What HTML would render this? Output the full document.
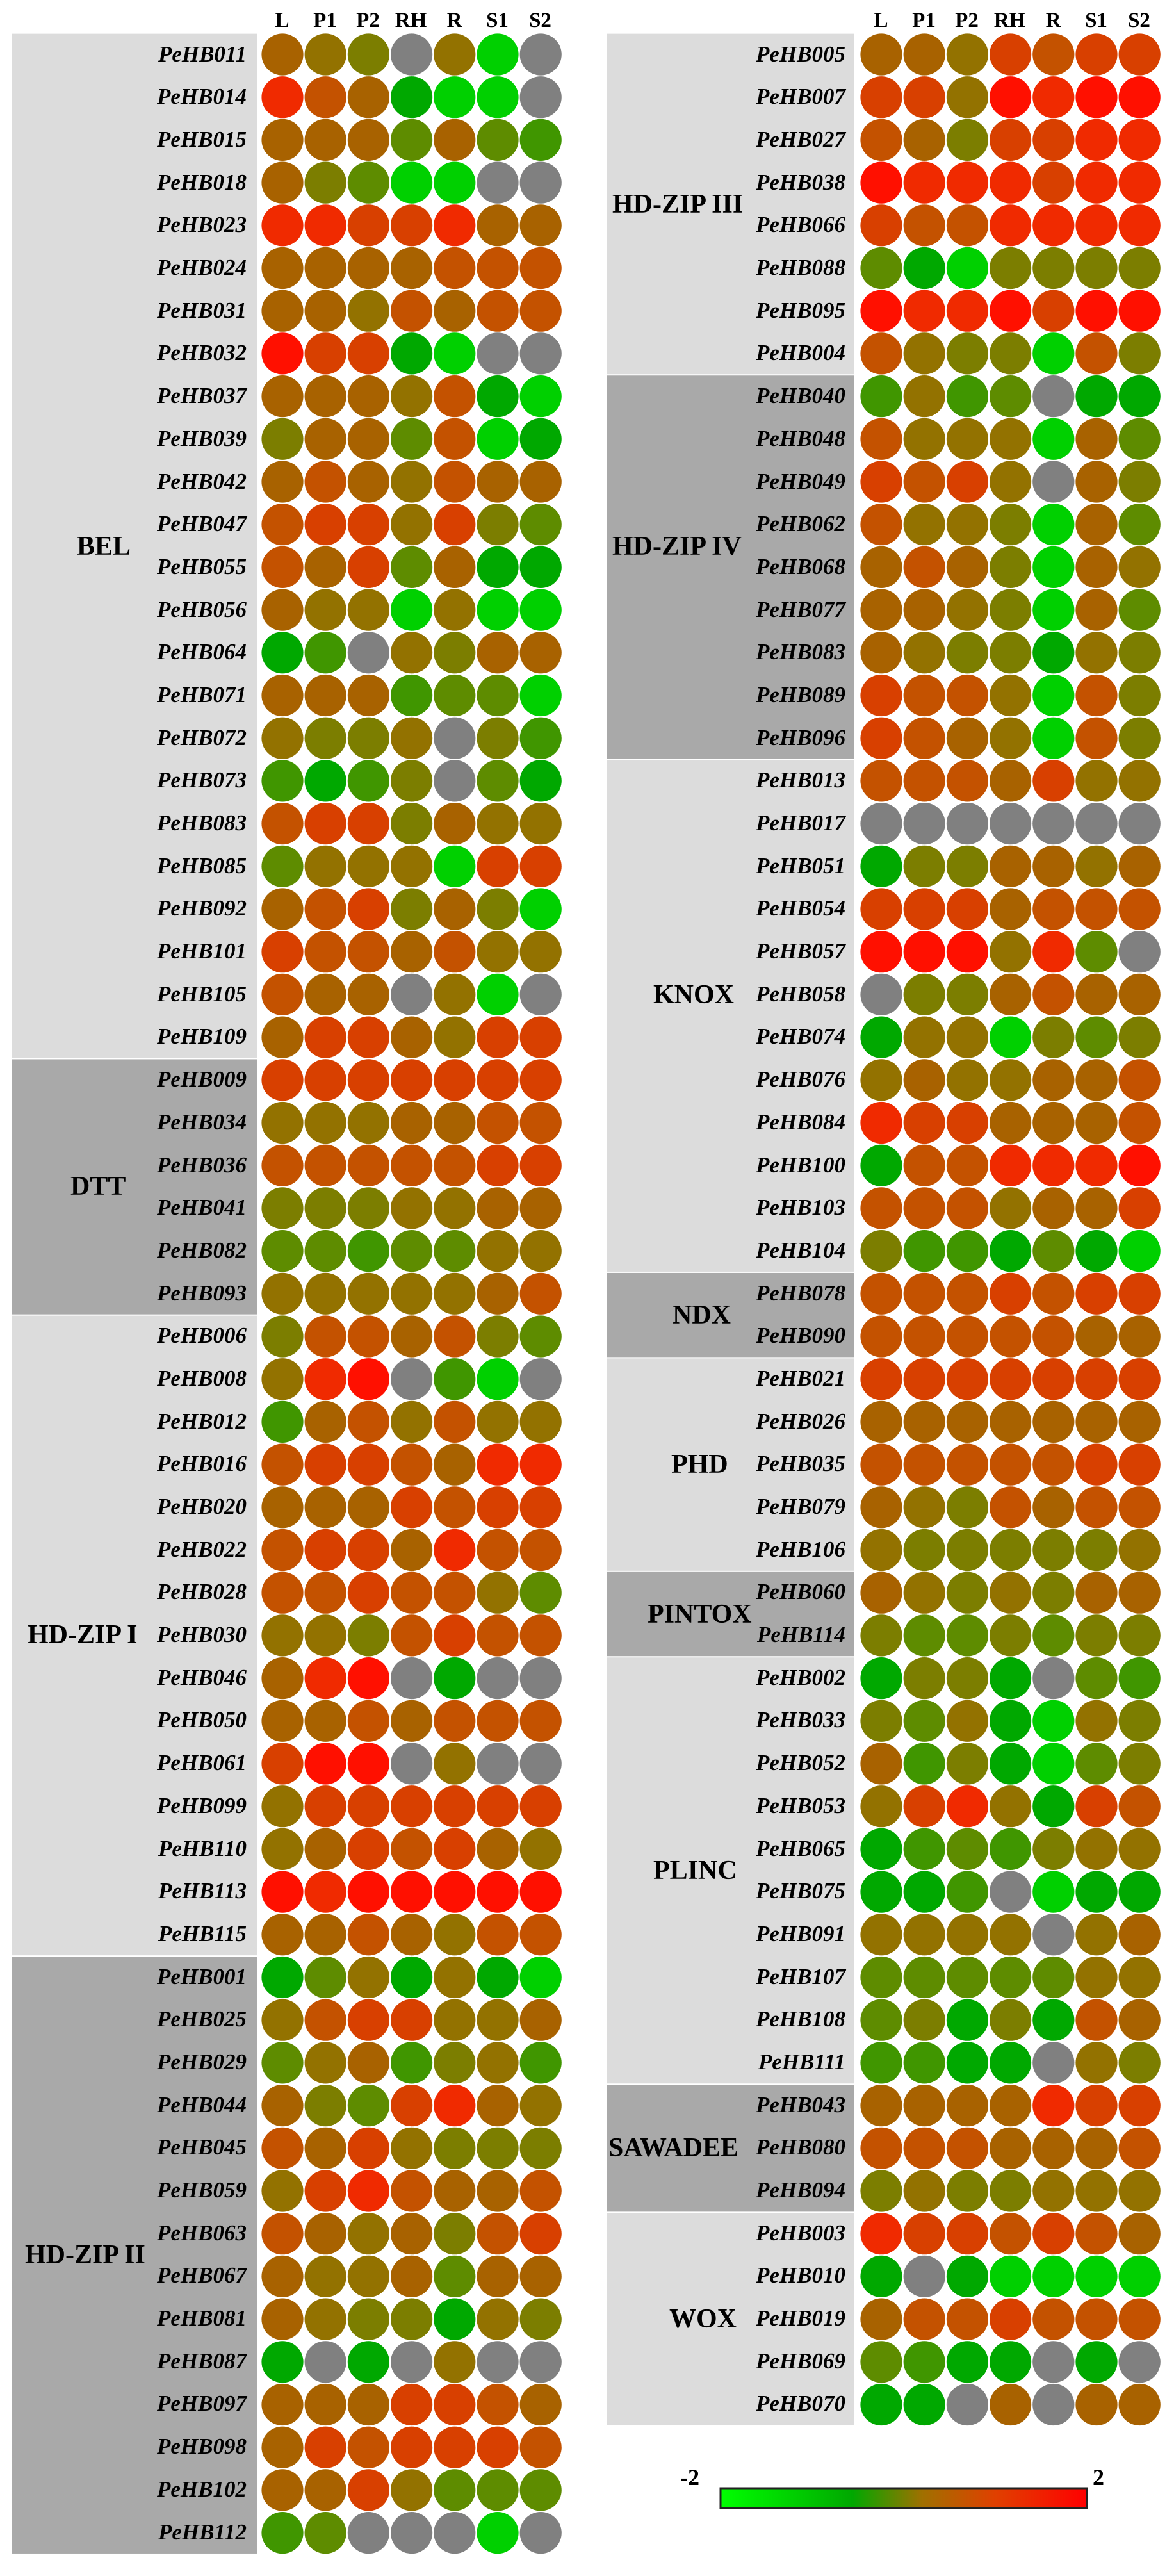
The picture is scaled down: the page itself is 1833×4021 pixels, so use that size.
<!DOCTYPE html>
<html><head><meta charset="utf-8">
<style>
html,body{margin:0;padding:0;background:#fff;}
body{width:1833px;height:4021px;position:relative;overflow:hidden;font-family:"Liberation Serif",serif;}
.col{position:absolute;top:51.65px;font-style:italic;font-weight:bold;font-size:35px;text-align:right;}
.col div{height:66.7px;line-height:66.7px;white-space:nowrap;}
.grp{position:absolute;font-weight:bold;font-size:42px;white-space:nowrap;line-height:42px;}
.hd{position:absolute;top:14px;font-weight:bold;font-size:33px;width:67px;text-align:center;}
svg{position:absolute;left:0;top:0;}
</style></head><body>
<svg id="s" width="1833" height="4021" xmlns="http://www.w3.org/2000/svg">
<defs><linearGradient id="cb" x1="0" x2="1" y1="0" y2="0">
<stop offset="0" stop-color="#00ff00"/><stop offset="0.36" stop-color="#00a800"/>
<stop offset="0.55" stop-color="#a07000"/><stop offset="0.75" stop-color="#e04000"/>
<stop offset="1" stop-color="#ff0000"/></linearGradient></defs>
<rect x="1125" y="3884" width="572" height="31" fill="url(#cb)" stroke="#222" stroke-width="3"/>
</svg>
<div class="hd" style="left:407px">L</div><div class="hd" style="left:474px">P1</div><div class="hd" style="left:541px">P2</div><div class="hd" style="left:608px">RH</div><div class="hd" style="left:676px">R</div><div class="hd" style="left:743px">S1</div><div class="hd" style="left:810px">S2</div>
<div class="hd" style="left:1342px">L</div><div class="hd" style="left:1409px">P1</div><div class="hd" style="left:1476px">P2</div><div class="hd" style="left:1543px">RH</div><div class="hd" style="left:1611px">R</div><div class="hd" style="left:1678px">S1</div><div class="hd" style="left:1745px">S2</div>

<div class="col" style="left:100px;width:285px">
<div>PeHB011</div><div>PeHB014</div><div>PeHB015</div><div>PeHB018</div><div>PeHB023</div><div>PeHB024</div><div>PeHB031</div><div>PeHB032</div><div>PeHB037</div><div>PeHB039</div><div>PeHB042</div><div>PeHB047</div><div>PeHB055</div><div>PeHB056</div><div>PeHB064</div><div>PeHB071</div><div>PeHB072</div><div>PeHB073</div><div>PeHB083</div><div>PeHB085</div><div>PeHB092</div><div>PeHB101</div><div>PeHB105</div><div>PeHB109</div>
<div>PeHB009</div><div>PeHB034</div><div>PeHB036</div><div>PeHB041</div><div>PeHB082</div><div>PeHB093</div>
<div>PeHB006</div><div>PeHB008</div><div>PeHB012</div><div>PeHB016</div><div>PeHB020</div><div>PeHB022</div><div>PeHB028</div><div>PeHB030</div><div>PeHB046</div><div>PeHB050</div><div>PeHB061</div><div>PeHB099</div><div>PeHB110</div><div>PeHB113</div><div>PeHB115</div>
<div>PeHB001</div><div>PeHB025</div><div>PeHB029</div><div>PeHB044</div><div>PeHB045</div><div>PeHB059</div><div>PeHB063</div><div>PeHB067</div><div>PeHB081</div><div>PeHB087</div><div>PeHB097</div><div>PeHB098</div><div>PeHB102</div><div>PeHB112</div>
</div>
<div class="col" style="left:1035px;width:285px">
<div>PeHB005</div><div>PeHB007</div><div>PeHB027</div><div>PeHB038</div><div>PeHB066</div><div>PeHB088</div><div>PeHB095</div><div>PeHB004</div>
<div>PeHB040</div><div>PeHB048</div><div>PeHB049</div><div>PeHB062</div><div>PeHB068</div><div>PeHB077</div><div>PeHB083</div><div>PeHB089</div><div>PeHB096</div>
<div>PeHB013</div><div>PeHB017</div><div>PeHB051</div><div>PeHB054</div><div>PeHB057</div><div>PeHB058</div><div>PeHB074</div><div>PeHB076</div><div>PeHB084</div><div>PeHB100</div><div>PeHB103</div><div>PeHB104</div>
<div>PeHB078</div><div>PeHB090</div>
<div>PeHB021</div><div>PeHB026</div><div>PeHB035</div><div>PeHB079</div><div>PeHB106</div>
<div>PeHB060</div><div>PeHB114</div>
<div>PeHB002</div><div>PeHB033</div><div>PeHB052</div><div>PeHB053</div><div>PeHB065</div><div>PeHB075</div><div>PeHB091</div><div>PeHB107</div><div>PeHB108</div><div>PeHB111</div>
<div>PeHB043</div><div>PeHB080</div><div>PeHB094</div>
<div>PeHB003</div><div>PeHB010</div><div>PeHB019</div><div>PeHB069</div><div>PeHB070</div>
</div>

<div class="grp" style="left:120px;top:832px">BEL</div>
<div class="grp" style="left:110px;top:1831px">DTT</div>
<div class="grp" style="left:43px;top:2531px">HD-ZIP I</div>
<div class="grp" style="left:39px;top:3499px">HD-ZIP II</div>
<div class="grp" style="left:956px;top:298px">HD-ZIP III</div>
<div class="grp" style="left:956px;top:832px">HD-ZIP IV</div>
<div class="grp" style="left:1020px;top:1532px">KNOX</div>
<div class="grp" style="left:1050px;top:2032px">NDX</div>
<div class="grp" style="left:1048px;top:2265px">PHD</div>
<div class="grp" style="left:1011px;top:2499px">PINTOX</div>
<div class="grp" style="left:1020px;top:2899px">PLINC</div>
<div class="grp" style="left:950px;top:3332px">SAWADEE</div>
<div class="grp" style="left:1045px;top:3599px">WOX</div>
<div style="position:absolute;left:1062px;top:3846px;font-size:36px;font-weight:bold;">-2</div>
<div style="position:absolute;left:1706px;top:3846px;font-size:36px;font-weight:bold;">2</div>

<script>
var P={R:"#ff1000",r:"#f02a00",O:"#d84000",o:"#c45200",B:"#a86200",Y:"#937200",y:"#7c7e00",G:"#5e8c00",g:"#409600",D:"#00a800",L:"#00d000",X:"#808080"};
var left=["BYyXYLX","roBDLLX","BBBGBGg","ByGLLXX","rrOOrBB","BBBBooo","BBYoBoo","ROODLXX","BBBYoDL","yBBGoLD","BoBYoBB","oOOYOyG","oBOGBDD","BYYLYLL","DgXYyBB","BBBgGGL","YyyYXyg","gDgyXGD","oOOyBYY","GYYYLOO","BoOyByL","OooBoYY","oBBXYLX","BOOBYOO","OOOOOOO","YYYBBoo","oooooOO","yyyYYBB","GGgGGYY","YYYYYBo","yooBoyG","YrRXgLX","gBoYoYY","oOOoBrr","BBBOoOO","oOOBroo","ooOooYG","YYyoOoo","BrRXDXX","BBoBooo","ORRXYXX","YOOOOOO","YBOoOBY","RrRRRRR","BBoBYoo","DGYDYDL","YoOOYYB","GYBgyYg","ByGOrBY","oBOYyyy","YOroBBo","oBYByoO","BYYBGBB","BYyyDYy","DXDXYXX","BBBOOoB","BOoOOOo","BBOYGGG","gGXXXLX"];
var right=["BBYOoOO","OOYRrRR","oByOOrr","RrrrOrr","Ooorrrr","GDLyyyy","RrrRORR","oYyyLoy","gYgGXDD","oYYYLBG","OoOYXBy","oYYyLBG","BoByLBY","BBYyLBG","BYyyDYy","OooYLoy","OoBYLoy","oooBOYY","XXXXXXX","DyyBBYB","OOOBooo","RRRYrGX","XyyBoBB","DYYLyGy","YBYYBBo","rOOBBBo","DoorrrR","oooYBBO","yggDGDL","oooOoOO","oooooBB","OOOOOOO","BBBBBBB","oooooOO","BYyoBoo","YyyyyyY","BYyYyBB","yGGyGyy","DyyDXGg","yGYDLYy","BgyDLGy","YOrYDOo","DgGgyYY","DDgXLDD","YYYYXYB","GGGGGYY","GyDyDoB","ggDDXYy","BBBBrOO","oooBBBo","yYyyYYY","rOOoOoB","DXDLLLL","BooOooo","GgDDXDX","DDXBXBB"];
var svg=document.getElementById("s"),NS="http://www.w3.org/2000/svg";
function rect(x,y,w,h,c){var e=document.createElementNS(NS,"rect");e.setAttribute("x",x);e.setAttribute("y",y);e.setAttribute("width",w);e.setAttribute("height",h);e.setAttribute("fill",c);svg.insertBefore(e,svg.firstChild.nextSibling);}
function groups(x,w,list){list.forEach(function(g){var t=85+g[0]*66.7-33.35+1,b=85+g[1]*66.7+33.35-1;rect(x,t,w,b-t,g[2]?"#a9a9a9":"#dcdcdc");});}
groups(18,384,[[0,23,0],[24,29,1],[30,44,0],[45,58,1]]);
groups(947,386,[[0,7,0],[8,16,1],[17,28,0],[29,30,1],[31,35,0],[36,37,1],[38,47,0],[48,50,1],[51,55,0]]);
function circles(x0,data){data.forEach(function(row,i){for(var j=0;j<7;j++){var c=document.createElementNS(NS,"circle");c.setAttribute("cx",x0+j*67.2);c.setAttribute("cy",85+i*66.7);c.setAttribute("r",32.6);c.setAttribute("fill",P[row[j]]);svg.appendChild(c);}});}
circles(441,left);circles(1376,right);
</script>
</body></html>
